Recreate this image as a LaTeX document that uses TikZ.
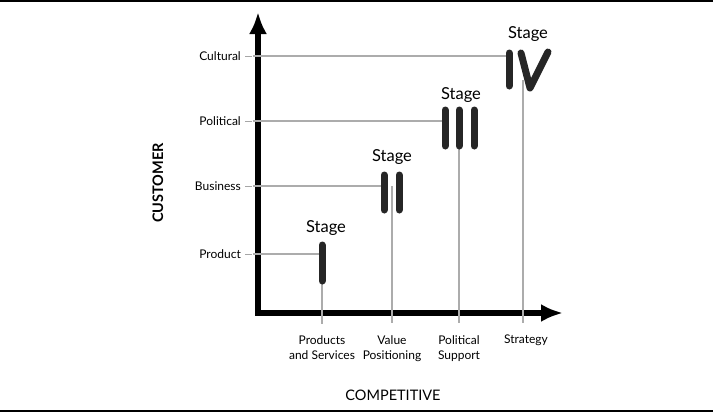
\documentclass[tikz,border=0pt]{standalone}
\usepackage{fontspec}
\setmainfont{Lato}
\usetikzlibrary{arrows.meta}
\begin{document}
\begin{tikzpicture}[x=1pt,y=-1pt,
  axis/.style={line width=5.5pt,line join=miter,{Latex[length=22pt,width=18pt]}-{Latex[length=22pt,width=18pt]}},
  guide/.style={draw=gray!65,line width=1.4pt},
  tick/.style={draw=gray!70,line width=0.8pt},
  bar/.style={draw=black!85,line width=7pt,line cap=round},
  rule/.style={line width=1.5pt},
  lvl/.style={anchor=east,inner sep=0pt,font=\fontsize{12}{13}\selectfont},
  comp/.style={align=center,anchor=north,inner sep=0pt,font=\fontsize{12}{15}\selectfont},
  stagelbl/.style={inner sep=0pt,font=\fontsize{16.5}{18}\selectfont},
  title/.style={inner sep=0pt,font=\fontsize{14.5}{16}\selectfont}]
\useasboundingbox (0,0) rectangle (713,413);
% frame rules
\coordinate (rTL) at (0,1); \coordinate (rTR) at (713,1);
\coordinate (rBL) at (0,411); \coordinate (rBR) at (713,411);
\draw[rule] (rTL) -- (rTR);
\draw[rule] (rBL) -- (rBR);
% axes
\coordinate (ytip) at (258,12);
\coordinate (orig) at (258,313);
\coordinate (xtip) at (563,313);
\draw[axis] (ytip) -- (orig) -- (xtip);
% level labels
\node[lvl] (lC) at (241,56) {Cultural};
\node[lvl] (lP) at (241,121) {Political};
\node[lvl] (lB) at (241,186) {Business};
\node[lvl] (lR) at (241,254) {Product};
% stage bars
\coordinate (s1t) at (322,245); \coordinate (s1b) at (322,281);
\coordinate (s2at) at (384,175); \coordinate (s2ab) at (384,210);
\coordinate (s2bt) at (399,175); \coordinate (s2bb) at (399,210);
\coordinate (s3at) at (445,110); \coordinate (s3ab) at (445,146);
\coordinate (s3bt) at (459,110); \coordinate (s3bb) at (459,146);
\coordinate (s3ct) at (474,110); \coordinate (s3cb) at (474,146);
\coordinate (s4it) at (509,53); \coordinate (s4ib) at (509,86);
\coordinate (s4vl) at (521,53); \coordinate (s4vb) at (530,88); \coordinate (s4vr) at (548,52);
% horizontal guides
\coordinate (gC) at (509,56); \coordinate (gP) at (445,121);
\coordinate (gB) at (384,186); \coordinate (gR) at (322,254);
\foreach \l/\g in {lC/gC,lP/gP,lB/gB,lR/gR}{
  \draw[tick] ([xshift=4pt]\l.east) -- ++(7,0);
  \draw[guide] ([xshift=12pt]\l.east) -- (\g);
}
% vertical guides
\coordinate (v1t) at (322,281); \coordinate (v1b) at (322,324);
\coordinate (v2t) at (392,186); \coordinate (v2b) at (392,323);
\coordinate (v3t) at (459,146); \coordinate (v3b) at (459,323);
\coordinate (v4t) at (523,80); \coordinate (v4b) at (523,323);
\foreach \a/\b in {v1t/v1b,v2t/v2b,v3t/v3b,v4t/v4b}{\draw[guide] (\a) -- (\b);}
% bars
\draw[bar] (s1t) -- (s1b);
\draw[bar] (s2at) -- (s2ab);
\draw[bar] (s2bt) -- (s2bb);
\draw[bar] (s3at) -- (s3ab);
\draw[bar] (s3bt) -- (s3bb);
\draw[bar] (s3ct) -- (s3cb);
\draw[bar] (s4it) -- (s4ib);
\draw[bar,line join=round] (s4vl) -- (s4vb) -- (s4vr);
% stage labels
\node[stagelbl] (st1) at (326,228) {Stage};
\node[stagelbl] (st2) at (392,157) {Stage};
\node[stagelbl] (st3) at (461,95) {Stage};
\node[stagelbl] (st4) at (528,34) {Stage};
% competitive labels
\node[comp] (c1) at (322,335) {Products\\and Services};
\node[comp] (c2) at (392,335) {Value\\Positioning};
\node[comp] (c3) at (459,335) {Political\\Support};
\node[comp] (c4) at (526,335) {Strategy};
% axis titles
\node[title] (tx) at (393,395) {COMPETITIVE};
\node[title,rotate=90,font=\fontsize{14.5}{16}\selectfont\bfseries] (ty) at (158,183) {CUSTOMER};
\end{tikzpicture}
\end{document}
